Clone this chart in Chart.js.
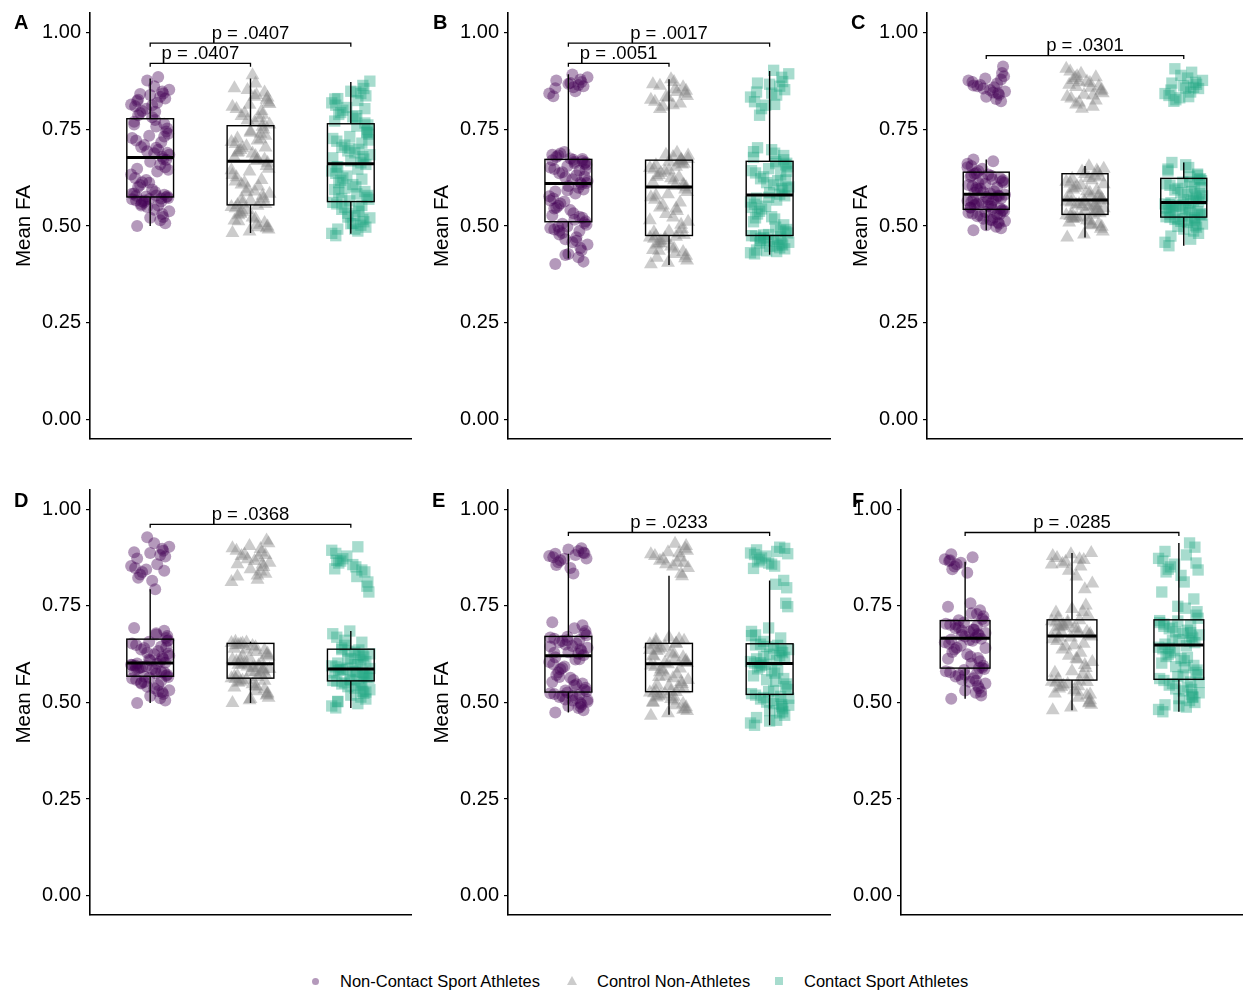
<!DOCTYPE html>
<html>
<head>
<meta charset="utf-8">
<script src="https://cdn.jsdelivr.net/npm/chart.js@4/dist/chart.umd.min.js"></script>
<style>
  body { margin: 0; background: #fff; width: 1243px; height: 992px; overflow: hidden; position: relative; font-family: 'Liberation Sans', Arial, sans-serif; }
  canvas { position: absolute; }
  .lg-text { position: absolute; font-size: 16.5px; line-height: 20px; height: 20px; color: #000; white-space: nowrap; }
  .lg-mk { position: absolute; }
</style>
</head>
<body>
<script>
// groups & ticks
const groups = ['Non-Contact Sport Athletes', 'Control Non-Athletes', 'Contact Sport Athletes'];
const panelLetters = ['A', 'B', 'C', 'D', 'E', 'F'];
const yTicks = [0, 0.25, 0.5, 0.75, 1];

// panel A
const aNonContact = [0.500,0.507,0.515,0.521,0.523,0.531,0.538,0.542,0.549,0.553,0.557,0.561,0.563,0.566,0.569,0.570,0.572,0.574,
  0.577,0.579,0.581,0.584,0.588,0.594,0.601,0.606,0.613,0.619,0.624,0.633,0.641,0.648,0.652,0.659,0.666,0.673,
  0.679,0.684,0.688,0.693,0.697,0.704,0.709,0.716,0.721,0.727,0.733,0.738,0.744,0.752,0.757,0.764,0.769,0.774,
  0.781,0.786,0.792,0.797,0.803,0.809,0.814,0.818,0.823,0.829,0.834,0.838,0.842,0.847,0.852,0.861,0.876,0.885,
  0.553,0.566,0.571,0.578,0.583,0.612,0.645,0.671,0.689,0.702,0.731,0.762,0.795,0.812,0.826,0.841,0.563,0.576];
const aControl = [0.482,0.486,0.491,0.494,0.499,0.503,0.508,0.514,0.519,0.522,0.528,0.531,0.537,0.541,0.546,0.549,0.552,0.554,
  0.557,0.562,0.566,0.571,0.578,0.583,0.589,0.596,0.602,0.607,0.612,0.619,0.626,0.632,0.641,0.648,0.655,0.663,
  0.668,0.672,0.676,0.681,0.687,0.692,0.696,0.701,0.706,0.712,0.717,0.721,0.726,0.733,0.738,0.744,0.749,0.756,
  0.762,0.768,0.773,0.779,0.784,0.791,0.797,0.802,0.808,0.813,0.819,0.826,0.832,0.838,0.845,0.856,0.868,0.889,
  0.512,0.534,0.558,0.587,0.615,0.644,0.671,0.689,0.703,0.724,0.741,0.766,0.787,0.815,0.834,0.851,0.497,0.569];
const aContact = [0.475,0.481,0.487,0.492,0.497,0.502,0.506,0.511,0.517,0.521,0.527,0.533,0.538,0.543,0.548,0.553,0.557,0.561,
  0.565,0.569,0.574,0.579,0.583,0.589,0.594,0.601,0.607,0.612,0.618,0.624,0.629,0.636,0.642,0.647,0.653,0.659,
  0.663,0.668,0.673,0.679,0.684,0.689,0.694,0.698,0.703,0.709,0.714,0.719,0.726,0.731,0.737,0.743,0.749,0.758,
  0.766,0.771,0.777,0.782,0.788,0.793,0.799,0.806,0.812,0.818,0.824,0.829,0.836,0.842,0.848,0.855,0.863,0.874,
  0.492,0.523,0.546,0.571,0.598,0.621,0.652,0.676,0.701,0.722,0.741,0.761,0.785,0.803,0.828,0.846,0.507,0.587];
const aBox = [[0.500,0.575,0.677,0.777,0.881],[0.482,0.5545,0.667,0.759,0.881],[0.480,0.563,0.661,0.764,0.872]];
const aSig = [[1,2,0.920,'p = .0407'],[1,3,0.972,'p = .0407']];

// panel B
const bNonContact = [0.402,0.408,0.419,0.428,0.437,0.443,0.452,0.458,0.466,0.471,0.478,0.482,0.487,0.491,0.495,0.499,0.503,0.508,
  0.512,0.516,0.521,0.527,0.533,0.541,0.547,0.552,0.558,0.563,0.571,0.577,0.584,0.589,0.594,0.599,0.603,0.608,
  0.612,0.616,0.621,0.626,0.631,0.636,0.639,0.643,0.647,0.651,0.655,0.658,0.661,0.664,0.666,0.668,0.670,0.671,
  0.674,0.678,0.682,0.687,0.691,0.835,0.842,0.848,0.856,0.861,0.864,0.867,0.872,0.878,0.884,0.891,
  0.425,0.462,0.488,0.506,0.524,0.545,0.566,0.592,0.611,0.628,0.645,0.662,0.673,0.684,0.858,0.869,0.876,0.498];
const bControl = [0.401,0.405,0.411,0.417,0.423,0.428,0.433,0.438,0.442,0.447,0.452,0.456,0.461,0.464,0.467,0.470,0.472,0.474,
  0.477,0.481,0.486,0.492,0.503,0.511,0.522,0.531,0.539,0.548,0.553,0.561,0.568,0.574,0.582,0.588,0.594,0.600,
  0.603,0.607,0.612,0.618,0.623,0.627,0.632,0.637,0.641,0.646,0.650,0.653,0.657,0.661,0.664,0.666,0.668,0.670,
  0.673,0.678,0.684,0.689,0.802,0.808,0.816,0.821,0.826,0.831,0.836,0.842,0.849,0.853,0.858,0.866,0.872,0.879,
  0.418,0.436,0.455,0.469,0.484,0.515,0.545,0.579,0.605,0.626,0.644,0.659,0.672,0.682,0.812,0.833,0.846,0.862];
const bContact = [0.428,0.431,0.434,0.438,0.441,0.444,0.447,0.451,0.454,0.458,0.461,0.464,0.466,0.468,0.470,0.472,0.474,0.475,
  0.478,0.482,0.486,0.491,0.497,0.503,0.511,0.518,0.524,0.531,0.538,0.544,0.551,0.556,0.562,0.567,0.572,0.578,
  0.582,0.586,0.591,0.596,0.601,0.606,0.612,0.617,0.622,0.627,0.632,0.637,0.643,0.648,0.653,0.658,0.662,0.666,
  0.671,0.677,0.688,0.697,0.702,0.786,0.803,0.812,0.821,0.833,0.838,0.846,0.852,0.861,0.866,0.873,0.884,0.893,0.902,
  0.436,0.449,0.463,0.477,0.489,0.521,0.548,0.574,0.598,0.619,0.641,0.661,0.682,0.692,0.814,0.843,0.869,0.456];
const bBox = [[0.416,0.511,0.610,0.672,0.892],[0.399,0.4755,0.601,0.670,0.879],[0.426,0.4755,0.580,0.667,0.900]];
const bSig = [[1,2,0.920,'p = .0051'],[1,3,0.972,'p = .0017']];

// panel C
const cNonContact = [0.489,0.494,0.498,0.502,0.506,0.509,0.513,0.516,0.519,0.522,0.525,0.527,0.530,0.532,0.534,0.536,0.538,0.540,0.542,
  0.544,0.546,0.548,0.550,0.552,0.554,0.557,0.559,0.561,0.563,0.565,0.567,0.569,0.571,0.573,0.575,0.577,0.579,0.581,
  0.584,0.587,0.590,0.594,0.597,0.600,0.603,0.606,0.609,0.612,0.615,0.618,0.621,0.624,0.627,0.630,0.633,0.635,0.637,
  0.642,0.648,0.655,0.661,0.667,0.672,
  0.822,0.828,0.834,0.839,0.843,0.847,0.851,0.855,0.858,0.861,0.864,0.868,0.872,0.876,0.881,0.887,0.895,0.912,
  0.515,0.531,0.547,0.558,0.569,0.586,0.598,0.611,0.622,0.631,0.652,0.845,0.863,0.878];
const cControl = [0.470,0.478,0.486,0.493,0.498,0.502,0.506,0.509,0.512,0.515,0.518,0.520,0.522,0.524,0.526,0.528,0.529,
  0.531,0.533,0.535,0.538,0.541,0.543,0.546,0.549,0.551,0.553,0.555,0.557,0.559,0.561,0.563,0.565,0.566,
  0.568,0.571,0.574,0.578,0.582,0.586,0.590,0.594,0.598,0.602,0.606,0.610,0.614,0.618,0.622,0.626,0.630,0.634,
  0.638,0.643,0.648,0.654,
  0.803,0.808,0.814,0.819,0.824,0.829,0.834,0.839,0.843,0.848,0.852,0.857,0.861,0.865,0.869,0.873,0.877,0.882,0.887,0.893,0.899,0.906,
  0.504,0.521,0.537,0.552,0.562,0.576,0.592,0.608,0.624,0.641,0.837,0.859,0.871,0.884];
const cContact = [0.449,0.458,0.466,0.474,0.481,0.487,0.492,0.497,0.501,0.505,0.509,0.512,0.515,0.517,0.519,0.521,0.522,
  0.524,0.526,0.528,0.530,0.532,0.535,0.537,0.540,0.542,0.544,0.547,0.549,0.551,0.553,0.555,0.557,0.559,0.560,
  0.562,0.565,0.568,0.571,0.574,0.578,0.582,0.586,0.589,0.593,0.597,0.601,0.605,0.609,0.613,0.617,0.620,0.622,
  0.627,0.634,0.642,0.651,0.658,0.664,
  0.822,0.826,0.831,0.837,0.842,0.846,0.851,0.855,0.858,0.862,0.866,0.871,0.876,0.882,0.889,0.897,0.906,
  0.499,0.516,0.531,0.546,0.556,0.569,0.584,0.599,0.614,0.631,0.647,0.834,0.856,0.869];
const cBox = [[0.489,0.543,0.582,0.639,0.672],[0.470,0.530,0.567,0.635,0.655],[0.449,0.523,0.561,0.623,0.664]];
const cSig = [[1,3,0.940,'p = .0301']];

// panel D
const dNonContact = [0.499,0.505,0.511,0.517,0.522,0.527,0.532,0.537,0.541,0.545,0.549,0.553,0.556,0.559,0.562,0.564,0.566,
  0.569,0.572,0.575,0.578,0.581,0.584,0.586,0.588,0.590,0.592,0.594,0.596,0.598,0.600,0.601,
  0.603,0.606,0.609,0.613,0.617,0.621,0.625,0.629,0.633,0.637,0.641,0.645,0.649,0.653,0.657,0.661,
  0.667,0.672,0.679,0.686,0.693,0.793,
  0.815,0.823,0.831,0.838,0.844,0.848,0.853,0.858,0.873,0.878,0.882,0.887,0.893,0.898,0.903,0.912,0.928,
  0.529,0.551,0.567,0.579,0.589,0.597,0.611,0.627,0.643,0.659,0.676,0.841,0.889];
const dControl = [0.499,0.506,0.512,0.518,0.524,0.529,0.534,0.539,0.543,0.547,0.551,0.554,0.557,0.559,0.561,
  0.563,0.566,0.569,0.572,0.575,0.578,0.581,0.584,0.587,0.590,0.593,0.596,0.598,
  0.601,0.604,0.607,0.611,0.615,0.619,0.623,0.627,0.631,0.635,0.639,0.643,0.646,0.649,0.651,
  0.653,0.655,0.657,
  0.812,0.818,0.826,0.833,0.839,0.845,0.851,0.857,0.862,0.866,0.871,0.875,0.879,0.883,0.888,0.893,0.899,0.905,0.912,0.919,
  0.521,0.541,0.556,0.567,0.579,0.589,0.598,0.609,0.621,0.637,0.648,0.654,0.829,0.858,0.882,0.897,0.509,0.587];
const dContact = [0.486,0.491,0.497,0.503,0.509,0.514,0.519,0.524,0.529,0.533,0.537,0.541,0.545,0.548,0.551,0.553,0.555,
  0.557,0.560,0.563,0.566,0.569,0.572,0.575,0.577,0.579,0.581,0.583,0.585,0.586,
  0.589,0.592,0.595,0.598,0.602,0.606,0.610,0.614,0.618,0.622,0.626,0.630,0.633,0.636,
  0.641,0.648,0.656,0.669,0.678,0.685,
  0.786,0.801,0.812,0.826,0.838,0.846,0.851,0.857,0.861,0.866,0.872,0.879,0.886,0.894,0.903,
  0.502,0.527,0.543,0.558,0.568,0.578,0.588,0.599,0.612,0.624,0.637,0.661,0.843,0.868];
const dBox = [[0.499,0.568,0.602,0.664,0.793],[0.499,0.563,0.600,0.653,0.657],[0.486,0.556,0.587,0.638,0.685]];
const dSig = [[1,3,0.961,'p = .0368']];

// panel E
const eNonContact = [0.474,0.480,0.486,0.491,0.495,0.499,0.502,0.505,0.508,0.511,0.514,0.517,0.520,0.522,0.524,0.526,
  0.529,0.533,0.538,0.544,0.549,0.553,0.558,0.564,0.571,0.578,0.586,0.593,0.599,0.605,0.611,0.617,
  0.622,0.626,0.630,0.634,0.638,0.642,0.646,0.650,0.653,0.656,0.659,0.662,0.665,0.668,0.670,
  0.674,0.679,0.685,0.692,0.700,0.708,
  0.834,0.848,0.856,0.863,0.868,0.872,0.876,0.879,0.882,0.885,0.888,0.892,0.896,0.899,
  0.489,0.507,0.518,0.531,0.547,0.566,0.589,0.612,0.629,0.645,0.661,0.873,0.886];
const eControl = [0.466,0.472,0.478,0.483,0.488,0.493,0.497,0.501,0.505,0.509,0.513,0.516,0.519,0.522,0.524,0.526,0.527,
  0.530,0.534,0.538,0.543,0.548,0.553,0.558,0.563,0.568,0.573,0.578,0.583,0.588,0.592,0.596,0.599,
  0.602,0.605,0.609,0.613,0.617,0.621,0.625,0.629,0.633,0.637,0.641,0.645,0.648,0.651,0.653,
  0.656,0.660,0.664,0.668,0.827,
  0.833,0.848,0.852,0.858,0.863,0.867,0.871,0.875,0.879,0.884,0.889,0.893,0.898,0.905,0.911,
  0.481,0.499,0.515,0.529,0.546,0.566,0.586,0.603,0.619,0.636,0.652,0.662,0.861,0.886];
const eContact = [0.441,0.447,0.454,0.461,0.467,0.473,0.479,0.484,0.489,0.493,0.497,0.501,0.505,0.509,0.513,0.516,0.519,
  0.523,0.528,0.534,0.541,0.548,0.555,0.562,0.569,0.576,0.582,0.587,0.592,0.596,0.599,
  0.602,0.606,0.609,0.613,0.617,0.621,0.625,0.629,0.633,0.637,0.641,0.645,0.648,0.651,
  0.658,0.667,0.675,0.684,0.693,0.748,0.757,0.797,0.806,0.816,
  0.847,0.853,0.858,0.864,0.869,0.874,0.879,0.883,0.887,0.891,0.895,0.899,0.902,
  0.452,0.476,0.495,0.511,0.531,0.559,0.584,0.603,0.619,0.635,0.649,0.673,0.861,0.885];
const eBox = [[0.474,0.527,0.621,0.671,0.885],[0.468,0.528,0.600,0.653,0.828],[0.441,0.521,0.601,0.652,0.816]];
const eSig = [[1,3,0.940,'p = .0233']];

// panel F
const fNonContact = [0.510,0.518,0.525,0.531,0.537,0.543,0.549,0.554,0.559,0.563,0.567,0.571,0.575,0.578,0.581,0.584,0.587,
  0.590,0.595,0.601,0.607,0.613,0.619,0.625,0.631,0.637,0.642,0.647,0.652,0.656,0.660,0.663,0.665,
  0.668,0.671,0.674,0.677,0.680,0.683,0.686,0.689,0.692,0.695,0.698,0.701,0.704,0.707,0.710,
  0.716,0.723,0.731,0.739,0.748,0.757,0.836,0.845,0.852,0.858,0.862,0.866,0.871,0.876,0.884,
  0.528,0.556,0.572,0.589,0.615,0.641,0.662,0.675,0.688,0.702,0.713,0.729,0.868];
const fControl = [0.480,0.487,0.494,0.500,0.506,0.512,0.518,0.523,0.528,0.532,0.536,0.540,0.544,0.548,0.551,0.554,0.556,
  0.560,0.566,0.573,0.581,0.589,0.597,0.605,0.613,0.621,0.629,0.637,0.645,0.652,0.659,0.664,0.668,0.671,
  0.674,0.677,0.680,0.683,0.686,0.689,0.692,0.695,0.698,0.701,0.704,0.707,0.710,0.713,
  0.719,0.726,0.734,0.742,0.751,0.793,0.808,0.826,0.841,0.852,0.859,0.864,0.869,0.874,0.879,0.884,0.887,
  0.498,0.521,0.542,0.553,0.577,0.611,0.648,0.668,0.682,0.697,0.709,0.733,0.857,0.871];
const fContact = [0.476,0.482,0.488,0.494,0.500,0.505,0.510,0.515,0.520,0.525,0.530,0.535,0.540,0.545,0.549,0.553,0.557,
  0.562,0.567,0.572,0.578,0.584,0.590,0.596,0.602,0.608,0.614,0.619,0.624,0.629,0.634,0.639,0.643,0.647,
  0.651,0.655,0.659,0.663,0.667,0.671,0.675,0.679,0.683,0.687,0.691,0.695,0.699,0.703,0.707,0.711,
  0.718,0.726,0.735,0.744,0.768,0.786,0.812,0.829,0.838,0.845,0.851,0.858,0.866,0.873,0.882,0.891,0.902,0.913,
  0.491,0.513,0.534,0.552,0.571,0.593,0.617,0.641,0.661,0.681,0.697,0.712,0.749,0.843,0.861];
const fBox = [[0.510,0.589,0.666,0.712,0.864],[0.480,0.558,0.672,0.714,0.887],[0.476,0.560,0.649,0.714,0.913]];
const fSig = [[1,3,0.940,'p = .0285']];

// ---- styling / layout ----
const colors = ['rgba(68,1,84,0.4)', 'rgba(128,128,128,0.4)', 'rgba(34,168,132,0.4)'];
const shapes = ['circle', 'triangle', 'rect'];
const radii = [6, 8, 8];
const jitterOffsets = [-0.13, 0.08, 0.17, -0.04, 0.12, -0.18, 0.02, 0.15, -0.09, 0.06, -0.15, 0.19, -0.01, -0.12, 0.10,
  -0.06, 0.14, -0.19, 0.04, 0.18, -0.10, 0.00, 0.11, -0.16, 0.07, -0.03, 0.16, -0.08, 0.13, -0.14, 0.05];
const boxHalf = 0.233;
const FONT = "'Liberation Sans', Arial, sans-serif";

// canvas placement for each panel (pixels)
const layout = [
  { left: 0,   top: 0,   axisX: 90,  right: 411,  chartTop: 13,  chartBottom: 439, title: true,  letter: [14, 29] },
  { left: 418, top: 0,   axisX: 508, right: 830,  chartTop: 13,  chartBottom: 439, title: true,  letter: [433, 29] },
  { left: 837, top: 0,   axisX: 927, right: 1243, chartTop: 13,  chartBottom: 439, title: true,  letter: [851, 29] },
  { left: 0,   top: 477, axisX: 90,  right: 411,  chartTop: 490, chartBottom: 915, title: true,  letter: [14, 507] },
  { left: 418, top: 477, axisX: 508, right: 830,  chartTop: 490, chartBottom: 915, title: true,  letter: [432, 507] },
  { left: 840, top: 477, axisX: 901, right: 1243, chartTop: 490, chartBottom: 915, title: false, letter: [852, 507] }
];

const panels = [
  { values: [aNonContact, aControl, aContact], box: aBox, sig: aSig },
  { values: [bNonContact, bControl, bContact], box: bBox, sig: bSig },
  { values: [cNonContact, cControl, cContact], box: cBox, sig: cSig },
  { values: [dNonContact, dControl, dContact], box: dBox, sig: dSig },
  { values: [eNonContact, eControl, eContact], box: eBox, sig: eSig },
  { values: [fNonContact, fControl, fContact], box: fBox, sig: fSig }
];

Chart.defaults.font.family = FONT;
Chart.defaults.color = '#000';

// stop the scales from reserving room for half tick labels
function noScalePadding(s) {
  s.paddingTop = 0; s.paddingBottom = 0; s.paddingLeft = 0; s.paddingRight = 0;
}

function extrasPlugin(p, L, letter) {
  return {
    id: 'extras',
    afterDatasetsDraw(chart) {
      const { ctx, scales: { x, y } } = chart;
      ctx.save();
      ctx.strokeStyle = '#000';
      ctx.fillStyle = '#000';
      // boxplots
      p.box.forEach((s, i) => {
        const cx = x.getPixelForValue(i + 1);
        const l = x.getPixelForValue(i + 1 - boxHalf), r = x.getPixelForValue(i + 1 + boxHalf);
        const [lo, q1, md, q3, hi] = s.map(v => y.getPixelForValue(v));
        ctx.lineWidth = 1.4;
        ctx.beginPath();
        ctx.moveTo(cx, lo); ctx.lineTo(cx, q1);
        ctx.moveTo(cx, q3); ctx.lineTo(cx, hi);
        ctx.stroke();
        ctx.strokeRect(l, q3, r - l, q1 - q3);
        ctx.lineWidth = 3;
        ctx.beginPath(); ctx.moveTo(l, md); ctx.lineTo(r, md); ctx.stroke();
      });
      // significance brackets
      ctx.lineWidth = 1.3;
      ctx.font = '18.5px ' + FONT;
      ctx.textAlign = 'center';
      ctx.textBaseline = 'alphabetic';
      p.sig.forEach(([g1, g2, lvl, label]) => {
        const x1 = x.getPixelForValue(g1), x2 = x.getPixelForValue(g2);
        const yy = y.getPixelForValue(lvl), yt = y.getPixelForValue(lvl - 0.009);
        ctx.beginPath();
        ctx.moveTo(x1, yt); ctx.lineTo(x1, yy); ctx.lineTo(x2, yy); ctx.lineTo(x2, yt);
        ctx.stroke();
        ctx.fillText(label, (x1 + x2) / 2, yy - 4.5);
      });
      ctx.restore();
    },
    afterDraw(chart) {
      const ctx = chart.ctx;
      ctx.save();
      ctx.font = 'bold 20px ' + FONT;
      ctx.fillStyle = '#000';
      ctx.textAlign = 'left';
      ctx.fillText(letter, L.letter[0] - L.left, L.letter[1] - L.top);
      ctx.restore();
    }
  };
}

panels.forEach((p, k) => {
  const L = layout[k];
  const cv = document.createElement('canvas');
  const w = L.right - L.left + (L.right >= 1243 ? 0 : 4);
  const h = 445;
  cv.width = w; cv.height = h;
  cv.style.left = L.left + 'px'; cv.style.top = L.top + 'px';
  cv.style.width = w + 'px'; cv.style.height = h + 'px';
  document.body.appendChild(cv);

  const datasets = p.values.map((vals, g) => ({
    label: groups[g],
    data: vals.map((v, i) => ({ x: g + 1 + jitterOffsets[(i * 7 + g * 5) % jitterOffsets.length], y: v })),
    pointStyle: shapes[g],
    pointRadius: radii[g],
    pointBackgroundColor: colors[g],
    pointBorderWidth: 0,
    pointBorderColor: 'rgba(0,0,0,0)'
  }));

  new Chart(cv, {
    type: 'scatter',
    data: { datasets },
    options: {
      responsive: false,
      animation: false,
      devicePixelRatio: 1,
      events: [],
      layout: {
        autoPadding: false,
        padding: { left: 0, top: L.chartTop - L.top, right: w - (L.right - L.left), bottom: (L.top + h) - L.chartBottom }
      },
      plugins: { legend: { display: false }, tooltip: { enabled: false } },
      scales: {
        x: {
          type: 'linear', min: 0.4, max: 3.6,
          ticks: { display: false },
          grid: { display: false },
          border: { display: true, color: '#000', width: 1.6 },
          afterFit: s => { s.height = 0; noScalePadding(s); }
        },
        y: {
          type: 'linear', min: -0.05, max: 1.05,
          afterBuildTicks: s => { s.ticks = yTicks.map(v => ({ value: v })); },
          afterFit: s => { s.width = L.axisX - L.left; noScalePadding(s); },
          ticks: { font: { size: 20 }, color: '#000', padding: 5, callback: v => Number(v).toFixed(2) },
          grid: { display: true, drawOnChartArea: false, drawTicks: true, tickLength: 4, color: '#000', lineWidth: 1.2 },
          border: { display: true, color: '#000', width: 1.6 },
          title: { display: L.title, text: 'Mean FA', font: { size: 20.5 }, color: '#000', padding: { top: 12, bottom: 0 } }
        }
      }
    },
    plugins: [extrasPlugin(p, L, panelLetters[k])]
  });
});

// shared legend
const legendPos = [[315, 340], [572, 597], [779, 804]];
groups.forEach((name, g) => {
  const [mx, tx] = legendPos[g];
  const mk = document.createElement('div');
  mk.className = 'lg-mk';
  if (g === 0) {
    Object.assign(mk.style, { left: (mx - 3.5) + 'px', top: '977.5px', width: '7px', height: '7px', borderRadius: '50%', background: colors[0] });
  } else if (g === 1) {
    Object.assign(mk.style, { left: (mx - 5) + 'px', top: '976px', width: '0', height: '0', borderLeft: '5px solid transparent', borderRight: '5px solid transparent', borderBottom: '9px solid ' + colors[1] });
  } else {
    Object.assign(mk.style, { left: (mx - 4) + 'px', top: '977px', width: '8px', height: '8px', background: colors[2] });
  }
  document.body.appendChild(mk);
  const t = document.createElement('div');
  t.className = 'lg-text';
  t.style.left = tx + 'px';
  t.style.top = '971px';
  t.textContent = name;
  document.body.appendChild(t);
});
</script>
</body>
</html>
